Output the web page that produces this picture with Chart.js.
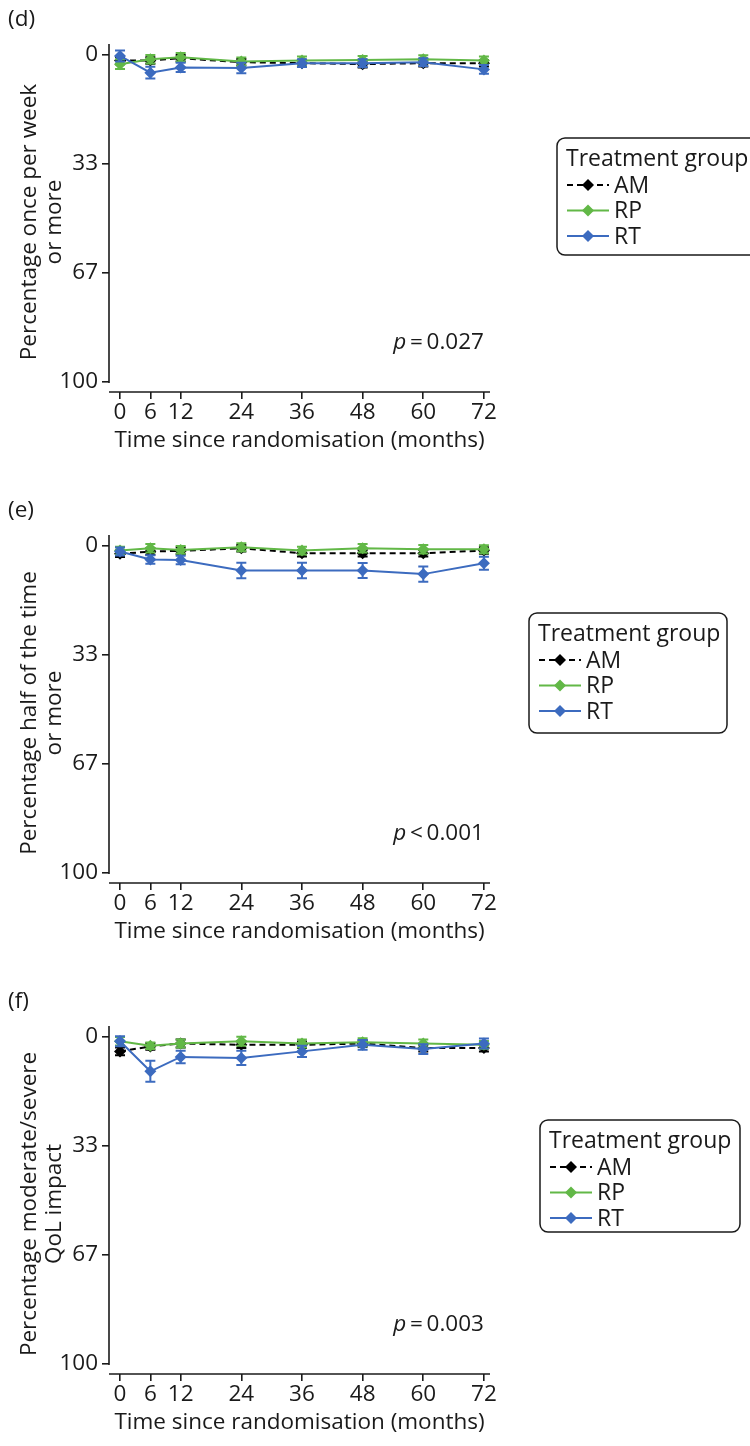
<!DOCTYPE html>
<html>
<head>
<meta charset="utf-8">
<script src="https://cdn.jsdelivr.net/npm/chart.js@4.4.1/dist/chart.umd.min.js"></script>
<style>
  html, body { margin: 0; padding: 0; background: #fff; overflow: hidden; }
  .panel { position: absolute; left: 0; width: 750px; height: 464px; }
</style>
</head>
<body>
<div class="panel" style="top:0"><canvas id="chartD" width="750" height="464"></canvas></div>
<div class="panel" style="top:491px"><canvas id="chartE" width="750" height="464"></canvas></div>
<div class="panel" style="top:982px"><canvas id="chartF" width="750" height="464"></canvas></div>
<script>
// Months since randomisation (x positions) and axis ticks
const months = [0, 6, 12, 24, 36, 48, 60, 72];
const xTicks = [0, 6, 12, 24, 36, 48, 60, 72];
const yTicks = [0, 100 / 3, 200 / 3, 100];
const groups = ['AM', 'RP', 'RT'];

// (d) Percentage once per week or more
const amD = [1.7, 1.7, 1.0, 2.2, 2.5, 2.8, 2.5, 2.5];
const rpD = [2.8, 1.3, 0.7, 2.0, 1.7, 1.5, 1.3, 1.7];
const rtD = [0.3, 5.4, 3.8, 4.0, 2.5, 2.5, 2.2, 4.4];
const amErrD = [1.1, 1.0, 1.0, 1.0, 1.0, 1.0, 1.0, 1.0];
const rpErrD = [1.5, 1.3, 1.3, 1.2, 1.2, 1.2, 1.2, 1.2];
const rtErrD = [1.7, 1.8, 1.4, 1.6, 1.2, 1.2, 1.2, 1.3];

// (e) Percentage half of the time or more
const amE = [2.4, 1.7, 1.5, 0.7, 2.2, 2.2, 2.2, 1.4];
const rpE = [1.4, 0.7, 1.2, 0.4, 1.4, 0.7, 1.0, 1.0];
const rtE = [1.7, 4.1, 4.3, 7.5, 7.5, 7.5, 8.6, 5.3];
const amErrE = [1.0, 1.0, 1.0, 1.0, 1.0, 1.0, 1.0, 1.0];
const rpErrE = [1.2, 1.3, 1.2, 1.2, 1.2, 1.3, 1.3, 1.2];
const rtErrE = [1.2, 1.3, 1.3, 2.4, 2.4, 2.3, 2.3, 2.0];

// (f) Percentage moderate/severe QoL impact
const amF = [4.4, 2.9, 2.0, 2.4, 2.4, 2.0, 3.4, 3.4];
const rpF = [1.3, 2.7, 2.0, 1.3, 2.0, 1.6, 2.0, 2.4];
const rtF = [1.3, 10.5, 6.1, 6.4, 4.4, 2.4, 3.7, 2.0];
const amErrF = [1.2, 1.0, 1.2, 1.0, 1.0, 1.0, 1.0, 1.0];
const rpErrF = [1.3, 1.0, 1.2, 1.4, 1.2, 1.2, 1.2, 1.2];
const rtErrF = [1.5, 3.2, 1.9, 2.2, 1.7, 1.5, 1.5, 1.5];

const FONT = "'Open Sans', 'Noto Sans', sans-serif";
const FS = 22.5;
const LFS = 23;
const colors = { AM: '#000000', RP: '#62b847', RT: '#3c6bbf' };

function makeDatasets(am, rp, rt, amErr, rpErr, rtErr) {
  const base = (label, vals, errs, order, dash) => ({
    label: label,
    data: months.map((m, i) => ({ x: m, y: vals[i] })),
    errors: errs,
    borderColor: colors[label],
    backgroundColor: colors[label],
    borderWidth: 2,
    borderDash: dash,
    pointStyle: 'rectRot',
    pointRadius: 6,
    pointBorderWidth: 0,
    tension: 0,
    order: order
  });
  return [
    base('AM', am, amErr, 2, [6, 4]),
    base('RP', rp, rpErr, 1, []),
    base('RT', rt, rtErr, 0, [])
  ];
}

// error bars, drawn just before each dataset's own line/points
const errorBars = {
  id: 'errorBars',
  beforeDatasetDraw(chart, args) {
    const ds = chart.data.datasets[args.index];
    const xs = chart.scales.x, ys = chart.scales.y;
    const ctx = chart.ctx;
    ctx.save();
    ctx.strokeStyle = ds.borderColor;
    ctx.lineWidth = 2;
    ctx.setLineDash([]);
    ds.data.forEach((p, i) => {
      const px = xs.getPixelForValue(p.x);
      const y1 = ys.getPixelForValue(p.y - ds.errors[i]);
      const y2 = ys.getPixelForValue(p.y + ds.errors[i]);
      ctx.beginPath();
      ctx.moveTo(px, y1); ctx.lineTo(px, y2);
      ctx.moveTo(px - 5, y1); ctx.lineTo(px + 5, y1);
      ctx.moveTo(px - 5, y2); ctx.lineTo(px + 5, y2);
      ctx.stroke();
    });
    ctx.restore();
  }
};

// detached axis lines, titles, p-value, legend box
const decorations = {
  id: 'decorations',
  afterDraw(chart) {
    const o = chart.options.plugins.decorations;
    const ctx = chart.ctx;
    const area = chart.chartArea;
    const ys = chart.scales.y;
    ctx.save();
    ctx.strokeStyle = '#1a1a1a';
    ctx.lineWidth = 1.6;
    ctx.setLineDash([]);
    // y axis
    ctx.beginPath();
    ctx.moveTo(area.left, area.top);
    ctx.lineTo(area.left, ys.getPixelForValue(100) + 1);
    ctx.stroke();
    // x axis
    ctx.beginPath();
    ctx.moveTo(area.left, area.bottom);
    ctx.lineTo(area.right, area.bottom);
    ctx.stroke();

    ctx.fillStyle = '#1a1a1a';
    ctx.font = FS + 'px ' + FONT;
    ctx.textBaseline = 'middle';
    // panel tag
    ctx.textAlign = 'left';
    ctx.fillText(o.tag, 8, 20);
    // x title
    ctx.textAlign = 'center';
    ctx.fillText('Time since randomisation (months)', (area.left + area.right) / 2, 441);
    // y title (two lines, rotated)
    ctx.save();
    ctx.translate(30, (area.top + area.bottom) / 2 + 4);
    ctx.rotate(-Math.PI / 2);
    ctx.fillText(o.yTitle[0], 0, 0);
    ctx.fillText(o.yTitle[1], 0, 25);
    ctx.restore();
    // p value
    ctx.textAlign = 'right';
    const rest = '\u2009' + o.pRel + '\u2009' + o.pVal;
    const restW = ctx.measureText(rest).width;
    const px = xAt(chart, 72), py = 343;
    ctx.fillText(rest, px, py);
    ctx.font = 'italic ' + FS + 'px ' + FONT;
    ctx.fillText('p', px - restW, py);

    // legend
    const L = o.legend;
    ctx.lineWidth = 1.5;
    ctx.strokeStyle = '#1a1a1a';
    ctx.beginPath();
    ctx.roundRect(L.x, L.y, L.w, L.h, 8);
    ctx.stroke();
    ctx.font = LFS + 'px ' + FONT;
    ctx.textAlign = 'left';
    ctx.fillText('Treatment group', L.x + 9, L.y + 21);
    chart.data.datasets.forEach((ds, i) => {
      const yy = L.y + 47 + i * 25.5;
      ctx.strokeStyle = ds.borderColor;
      ctx.lineWidth = 2;
      ctx.setLineDash(ds.borderDash);
      ctx.beginPath();
      ctx.moveTo(L.x + 10, yy);
      ctx.lineTo(L.x + 52, yy);
      ctx.stroke();
      ctx.setLineDash([]);
      ctx.fillStyle = ds.backgroundColor;
      ctx.beginPath();
      ctx.moveTo(L.x + 31, yy - 6);
      ctx.lineTo(L.x + 37, yy);
      ctx.lineTo(L.x + 31, yy + 6);
      ctx.lineTo(L.x + 25, yy);
      ctx.closePath();
      ctx.fill();
      ctx.fillStyle = '#1a1a1a';
      ctx.fillText(ds.label, L.x + 57, yy + 1);
    });
    ctx.restore();
  }
};

function xAt(chart, v) { return chart.scales.x.getPixelForValue(v); }

function createPanel(id, tag, yTitle, pRel, pVal, legend, am, rp, rt, amErr, rpErr, rtErr) {
  const ctx = document.getElementById(id).getContext('2d');
  return new Chart(ctx, {
    type: 'line',
    data: { datasets: makeDatasets(am, rp, rt, amErr, rpErr, rtErr) },
    plugins: [errorBars, decorations],
    options: {
      responsive: false,
      animation: false,
      layout: { padding: { top: 44, right: 260, left: 0, bottom: 0 } },
      scales: {
        x: {
          type: 'linear',
          min: -2.18,
          max: 73.2,
          afterFit(scale) { scale.height = 72; },
          afterBuildTicks(scale) { scale.ticks = xTicks.map(v => ({ value: v })); },
          border: { display: false },
          grid: { drawOnChartArea: false, drawTicks: true, tickLength: 7, color: '#1a1a1a', lineWidth: 1.6 },
          ticks: {
            color: '#1a1a1a', padding: 0, maxRotation: 0,
            font: { family: FONT, size: FS },
            callback: v => String(v)
          }
        },
        y: {
          type: 'linear',
          reverse: true,
          min: -3.36,
          max: 103.06,
          afterFit(scale) { scale.width = 109; },
          afterBuildTicks(scale) { scale.ticks = yTicks.map(v => ({ value: v })); },
          border: { display: false },
          grid: { drawOnChartArea: false, drawTicks: true, tickLength: 7, color: '#1a1a1a', lineWidth: 1.6 },
          ticks: {
            color: '#1a1a1a', padding: 4,
            font: { family: FONT, size: FS },
            callback: v => String(Math.round(v))
          }
        }
      },
      plugins: {
        legend: { display: false },
        tooltip: { enabled: false },
        decorations: { tag: tag, yTitle: yTitle, pRel: pRel, pVal: pVal, legend: legend }
      }
    }
  });
}

createPanel('chartD', '(d)', ['Percentage once per week', 'or more'], '=', '0.027',
  { x: 557, y: 138, w: 200, h: 117 }, amD, rpD, rtD, amErrD, rpErrD, rtErrD);
createPanel('chartE', '(e)', ['Percentage half of the time', 'or more'], '<', '0.001',
  { x: 529, y: 122, w: 198, h: 120 }, amE, rpE, rtE, amErrE, rpErrE, rtErrE);
createPanel('chartF', '(f)', ['Percentage moderate/severe', 'QoL impact'], '=', '0.003',
  { x: 540, y: 138, w: 200, h: 112 }, amF, rpF, rtF, amErrF, rpErrF, rtErrF);
</script>
</body>
</html>
